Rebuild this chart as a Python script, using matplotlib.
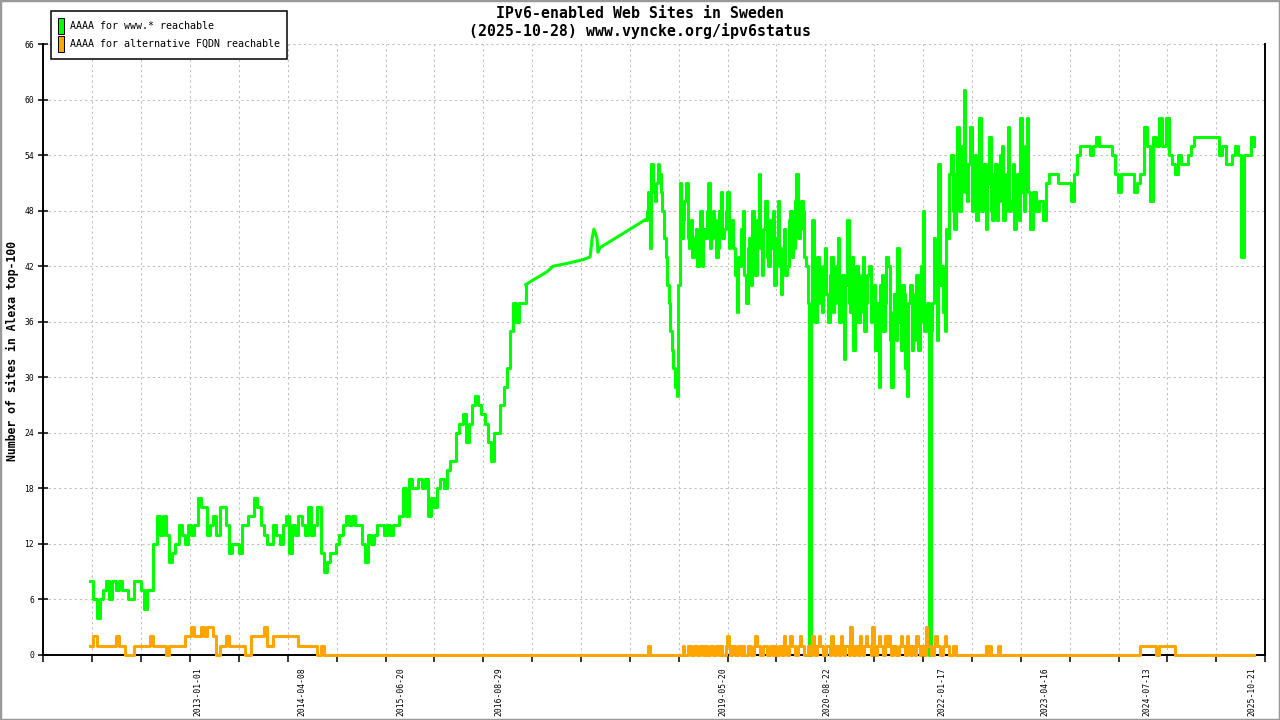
import numpy as np
import pandas as pd
import matplotlib
matplotlib.use('Agg')
import matplotlib.pyplot as plt
import matplotlib.dates as mdates
from matplotlib.patches import Patch, Rectangle

# sites with AAAA for www.* reachable, 2011-09 .. 2016-12 (every 14 days)
www_a = [8, 6, 4, 6, 7, 8, 6, 8, 7, 8,
         7, 7, 6, 6, 8, 8, 7, 5, 7, 7,
         12, 15, 13, 15, 13, 10, 11, 12, 14, 13,
         12, 14, 13, 14, 17, 16, 16, 13, 14, 15,
         13, 16, 16, 14, 11, 12, 12, 11, 14, 14,
         15, 15, 17, 16, 14, 13, 12, 12, 14, 13,
         12, 14, 15, 11, 14, 13, 15, 14, 13, 16,
         13, 14, 16, 11, 9, 10, 11, 11, 12, 13,
         14, 15, 14, 15, 14, 14, 12, 10, 13, 12,
         13, 14, 14, 13, 14, 13, 14, 14, 15, 18,
         15, 19, 18, 18, 19, 18, 19, 15, 17, 16,
         18, 19, 18, 20, 21, 21, 24, 25, 26, 23,
         25, 27, 28, 27, 26, 25, 23, 21, 24, 24,
         27, 29, 31, 35, 38, 36, 38, 38, 40]
# alternative FQDN reachable, same dates
alt_a = [1, 2, 1, 1, 1, 1, 1, 1, 2, 1,
         1, 0, 0, 0, 1, 1, 1, 1, 1, 2,
         1, 1, 1, 1, 0, 1, 1, 1, 1, 1,
         2, 2, 3, 2, 2, 3, 2, 3, 3, 2,
         0, 1, 1, 2, 1, 1, 1, 1, 1, 0,
         0, 2, 2, 2, 2, 3, 1, 1, 2, 2,
         2, 2, 2, 2, 2, 2, 1, 1, 1, 1,
         1, 1, 0, 1, 0] + [0] * 64

# sparse measurements 2017-2018
gap_dates = ['2017-01-27', '2017-03-30', '2017-04-26', '2017-06-27', '2017-09-06',
             '2017-10-07', '2017-10-16', '2017-10-24', '2017-11-07', '2017-11-11',
             '2017-11-20']
www_gap = [40.5, 41.4, 42, 42.3, 42.7, 43, 45, 46, 45, 43.5, 44]
alt_gap = [0, 0, 0, 0, 0, 0, 0, 0, 0, 0, 0]

# 2018-06 .. 2023-02 (weekly, noisy period)
www_c1 = [47, 48, 50, 44, 53, 50, 49, 51, 53, 52, 50, 48, 45, 43, 40, 38, 35, 33, 31, 29,
          28, 40, 51, 45, 47, 49, 51, 45, 44, 47, 43, 45, 46, 42, 44, 48, 42, 46, 45, 48,
          51, 44, 45, 48, 47, 43, 44, 48, 50, 45, 46, 48, 50, 44, 45, 47, 44, 41, 37, 43,
          42, 46, 48, 41, 38, 44, 45, 40, 48, 44, 41, 47, 52, 44, 41, 46, 49, 43, 42, 47,
          44, 48, 40, 45, 49, 42, 39, 44, 46, 41, 42, 47, 48, 43, 44, 49, 52, 45, 46, 49,
          48, 43, 42, 38, 0, 36, 47, 38, 36, 43, 42, 38, 37, 42, 44, 39, 36, 41, 43, 37,
          38, 42, 45, 36, 39, 41, 32, 40, 47, 38, 37, 43, 33, 39, 42, 36, 37, 41, 43, 35,
          38, 41, 42, 36, 37, 40, 33, 38, 29, 40, 41, 35, 38, 43, 42, 34, 29, 37, 39, 34,
          44, 36, 33, 40, 39, 31, 28, 38, 40, 33, 34, 39, 41, 33, 36, 42, 48, 35, 37, 38,
          0, 35, 38, 45, 43, 34, 53, 40, 42, 37, 35, 46, 45, 52, 54, 48, 46, 52, 57, 48,
          50, 55, 61, 50, 49, 53, 57, 48, 50, 54, 47, 52, 58, 48, 49, 53, 46, 51, 56, 48,
          47, 52, 53, 47, 49, 54, 55, 47, 48, 52, 57, 48, 49, 53, 46, 50, 52, 47, 58, 50,
          48, 55, 58, 50]
alt_c1 = [0, 0, 1, 0, 0, 0, 0, 0, 0, 0, 0, 0, 0, 0, 0, 0, 0, 0, 0, 0,
          0, 0, 0, 0, 1, 0, 0, 1, 1, 0, 0, 1, 1, 0, 0, 1, 1, 0, 1, 0,
          0, 1, 1, 0, 0, 1, 1, 0, 1, 0, 0, 1, 2, 1, 0, 1, 1, 0, 0, 1,
          1, 0, 1, 0, 0, 1, 1, 0, 0, 1, 2, 1, 1, 0, 0, 1, 1, 0, 0, 1,
          1, 0, 1, 0, 0, 1, 1, 0, 2, 1, 0, 1, 2, 1, 1, 0, 0, 1, 2, 1,
          1, 0, 0, 1, 1, 0, 2, 1, 0, 1, 2, 1, 1, 0, 0, 1, 1, 0, 2, 1,
          0, 1, 1, 0, 2, 1, 0, 1, 1, 0, 3, 1, 0, 1, 1, 0, 2, 1, 0, 1,
          2, 1, 1, 0, 3, 1, 0, 1, 2, 1, 1, 0, 2, 1, 2, 1, 0, 1, 1, 0,
          0, 1, 2, 1, 1, 0, 2, 1, 0, 1, 1, 0, 2, 1, 0, 1, 1, 0, 3, 1,
          1, 0, 0, 1, 2, 1, 1, 0, 0, 1, 2, 1, 1, 0, 0, 1, 1, 0, 0, 0,
          0, 0, 0, 0, 0, 0, 0, 0, 0, 0, 0, 0, 0, 0, 0, 0, 1, 0, 1, 0,
          0, 0, 0, 0, 1, 0, 0, 0, 0, 0, 0, 0, 0, 0, 0, 0, 0, 0, 0, 0,
          0, 0, 0, 0]

# 2023-02 .. 2025-10 (every 14 days)
www_c2 = [46, 50, 48, 49, 47, 51, 52, 52,
          52, 51, 51, 51, 51, 49, 52, 54, 55, 55,
          55, 54, 55, 56, 55, 55, 55, 55, 54, 52,
          50, 52, 52, 52, 52, 50, 51, 52, 57, 55,
          49, 56, 55, 58, 55, 58, 54, 53, 52, 54,
          53, 53, 54, 55, 56, 56, 56, 56, 56, 56,
          56, 56, 54, 55, 53, 53, 54, 55, 54, 43,
          54, 54, 56, 55]
alt_c2 = [0, 0, 0, 0, 0, 0, 0, 0,
          0, 0, 0, 0, 0, 0, 0, 0, 0, 0,
          0, 0, 0, 0, 0, 0, 0, 0, 0, 0,
          0, 0, 0, 0, 0, 0, 0, 1, 1, 1,
          1, 1, 0, 1, 1, 1, 1, 1, 0, 0,
          0, 0, 0, 0, 0, 0, 0, 0, 0, 0,
          0, 0, 0, 0, 0, 0, 0, 0, 0, 0,
          0, 0, 0, 0]

label_dates = ['2013-01-01', '2014-04-08', '2015-06-20', '2016-08-29', '2019-05-20',
               '2020-08-22', '2022-01-17', '2023-04-16', '2024-07-13', '2025-10-21']
y_ticks = list(range(0, 67, 6))
series_names = ['AAAA for www.* reachable', 'AAAA for alternative FQDN reachable']
colors = ['#00ff00', '#ffa500']

dates_a = pd.date_range('2011-09-11', periods=len(www_a), freq='14D')
dates_c1 = pd.date_range('2018-06-08', periods=len(www_c1), freq='7D')
dates_c2 = pd.date_range(dates_c1[-1] + pd.Timedelta(days=7), periods=len(www_c2), freq='14D')
dates_b = pd.DatetimeIndex([dates_a[-1]]).append(pd.to_datetime(gap_dates)).append(pd.DatetimeIndex([dates_c1[0]]))
dates_c = dates_c1.append(dates_c2)

mono = 'DejaVu Sans Mono'
fig = plt.figure(figsize=(12.8, 7.2), dpi=100)
ax = fig.add_axes([43.4 / 1280, 65 / 720, (1265.2 - 43.4) / 1280, 611 / 720])

lw = 2.2
for vals_a, vals_b, vals_c, col, z in [(www_a, www_gap, www_c1 + www_c2, colors[0], 3),
                                       (alt_a, alt_gap, alt_c1 + alt_c2, colors[1], 4)]:
    ax.plot(dates_a, vals_a, color=col, lw=lw, drawstyle='steps-post', zorder=z, clip_on=False)
    ax.plot(dates_b, [vals_a[-1]] + vals_b + [vals_c[0]], color=col, lw=lw, zorder=z, clip_on=False)
    ax.plot(dates_c, vals_c, color=col, lw=lw, drawstyle='steps-post', zorder=z, clip_on=False)

x0 = pd.Timestamp('2011-02-15')
x1 = pd.Timestamp('2025-12-20')
ax.set_xlim(x0, x1)
ax.set_ylim(0, 66)

# x: grid / tick marks at 25 equal divisions, labels at sample dates
ax.set_xticks(np.linspace(mdates.date2num(x0), mdates.date2num(x1), 26), minor=True)
ax.set_xticks(mdates.date2num(pd.to_datetime(label_dates)))
ax.set_xticklabels(label_dates, rotation=90, fontsize=5.8, family=mono, va='top')
ax.tick_params(axis='x', which='major', length=0, pad=8.5)
ax.tick_params(axis='x', which='minor', direction='out', length=5, width=1.1, color='black')
ax.set_yticks(y_ticks)
ax.set_yticklabels([str(v) for v in y_ticks], fontsize=5.8, family=mono)
ax.tick_params(axis='y', direction='inout', length=7.2, width=1.1, pad=3)

ax.grid(True, axis='x', which='minor', color='#bdbdbd', lw=0.75, ls=(0, (2, 3)))
ax.grid(True, axis='y', which='major', color='#bdbdbd', lw=0.75, ls=(0, (2, 3)))
ax.set_axisbelow(True)

ax.spines['top'].set_visible(False)
for s in ['left', 'bottom', 'right']:
    ax.spines[s].set_linewidth(1.4)
    ax.spines[s].set_color('black')

fig.text(0.5, 1 - 13 / 720, 'IPv6-enabled Web Sites in Sweden', ha='center', va='center',
         fontsize=10.7, family=mono, weight='bold')
fig.text(0.5, 1 - 31 / 720, '(2025-10-28) www.vyncke.org/ipv6status', ha='center', va='center',
         fontsize=10.7, family=mono, weight='bold')
fig.text(12 / 1280, 1 - 351 / 720, 'Number of sites in Alexa top-100', rotation=90,
         ha='center', va='center', fontsize=8.3, family=mono, weight='bold')

handles = [Patch(facecolor=c, edgecolor='black', lw=0.7) for c in colors]
leg = fig.legend(handles, series_names, loc='upper left',
                 bbox_to_anchor=(50.7 / 1280, 1 - 10.7 / 720), bbox_transform=fig.transFigure,
                 borderaxespad=0, borderpad=0.75, handlelength=0.6, handleheight=2.1,
                 handletextpad=0.55, labelspacing=0.15, fancybox=False, framealpha=1,
                 edgecolor='black', prop={'family': mono, 'size': 7.2})
leg.get_frame().set_linewidth(1.1)

fig.patches.append(Rectangle((0, 0), 1, 1, transform=fig.transFigure, fill=False,
                             edgecolor='#999999', lw=2.5, zorder=10))

fig.savefig('out.png', dpi=100)
